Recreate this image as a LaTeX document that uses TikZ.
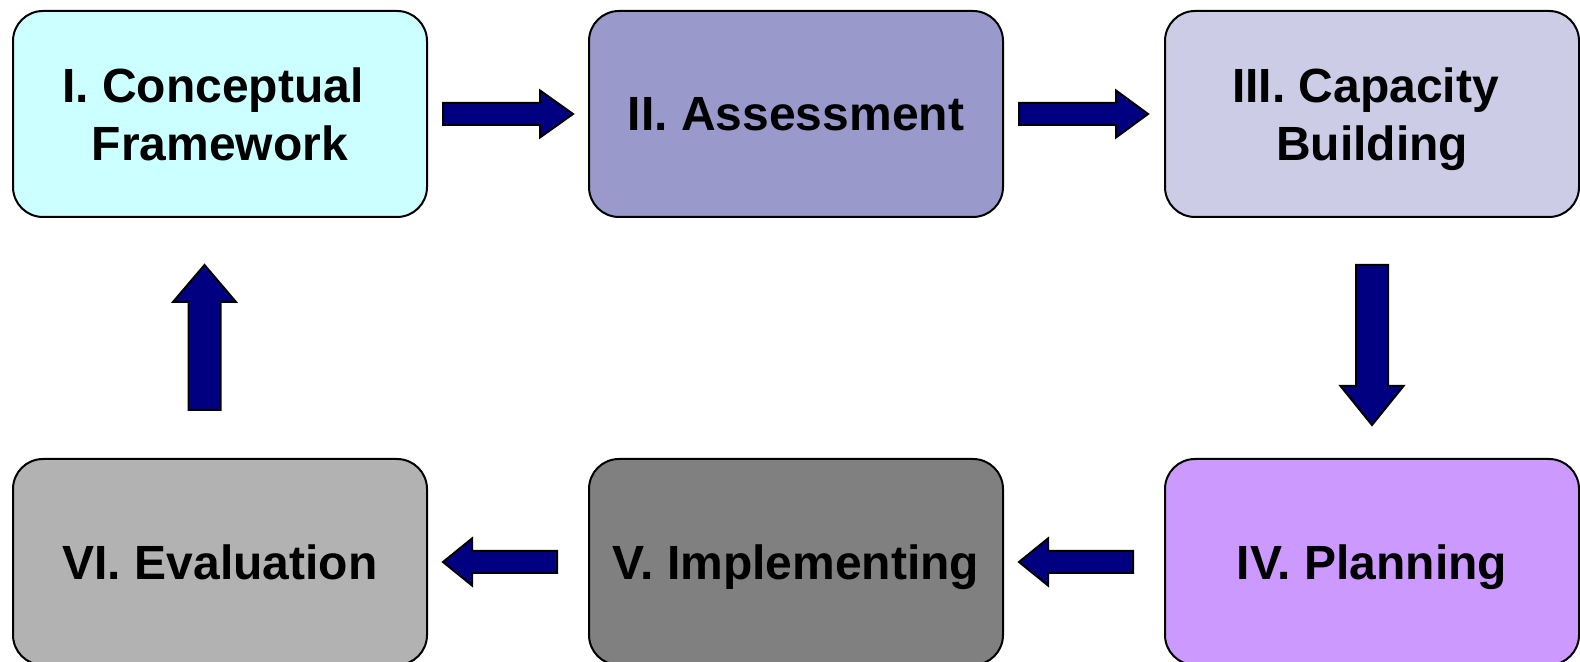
\documentclass[tikz,border=0pt]{standalone}
\usepackage{fontspec}
\setmainfont{Liberation Sans}
\usetikzlibrary{positioning,calc}
\definecolor{stageone}{HTML}{CCFFFF}
\definecolor{stagetwo}{HTML}{9999CC}
\definecolor{stagethree}{HTML}{CCCCE6}
\definecolor{stagefour}{HTML}{CC99FF}
\definecolor{stagefive}{HTML}{808080}
\definecolor{stagesix}{HTML}{B2B2B2}
\definecolor{flownavy}{HTML}{000080}
\tikzset{
  stage/.style={
    draw=black,
    line width=1pt,
    fill=#1,
    rounded corners=15pt,
    minimum width=207pt,
    minimum height=103pt,
    inner sep=0pt,
    align=center,
    font=\fontsize{24}{29}\selectfont\bfseries,
  },
  one line/.style={
    text depth=-1pt,
  },
  % #1 half shaft, #2 half head, #3 head length
  flow/.style n args={3}{
    draw=black,
    fill=flownavy,
    line width=1pt,
    to path={
      ($(\tikztotarget)!#3!(\tikztostart)$) coordinate (fh)
      ($(\tikztostart)!#1!90:(\tikztotarget)$)
      -- ($(fh)!#1!90:(\tikztotarget)$)
      -- ($(fh)!#2!90:(\tikztotarget)$)
      -- (\tikztotarget)
      -- ($(fh)!#2!-90:(\tikztotarget)$)
      -- ($(fh)!#1!-90:(\tikztotarget)$)
      -- ($(\tikztostart)!#1!-90:(\tikztotarget)$)
      -- cycle
    }
  }
}
\begin{document}
\begin{tikzpicture}[x=0.5pt, y=0.5pt, node distance=80pt]
        \useasboundingbox (0,0) rectangle (1580,662);

        \node [stage=stageone] (b1) at (220,548) {I. Conceptual\hspace*{7pt}\\Framework};
        \node [stage=stagetwo, one line, right=of b1] (b2) {II. Assessment};
        \node [stage=stagethree, right=of b2] (b3) {III. Capacity\hspace*{6.5pt}\\\smash{Building}};
        \node [stage=stagefour, one line, below=120pt of b3] (b4) {IV. Planning};
        \node [stage=stagefive, one line, left=of b4] (b5) {V. Implementing};
        \node [stage=stagesix, one line, left=of b5] (b6) {VI. Evaluation};

        \draw [flow={5.5pt}{11.75pt}{16.5pt}] ($(b1.east)+(15,0)$) to ($(b2.west)-(15,0)$);
        \draw [flow={5.5pt}{11.75pt}{16pt}] ($(b2.east)+(15,0)$) to ($(b3.west)-(16,0)$);
        \draw [flow={8pt}{15.75pt}{19.5pt}] ($(b3.south)-(0,47)$) to ($(b4.north)+(0,33)$);
        \draw [flow={5.5pt}{11.75pt}{14.5pt}] ($(b4.west)-(31,0)$) to ($(b5.east)+(15,0)$);
        \draw [flow={5.5pt}{11.75pt}{14.5pt}] ($(b5.west)-(31,0)$) to ($(b6.east)+(15,0)$);
        \draw [flow={8pt}{15.75pt}{18.5pt}] ($(b6.north)+(-15.5,48)$) to ($(b1.south)-(15.5,47)$);
      \end{tikzpicture}
\end{document}
